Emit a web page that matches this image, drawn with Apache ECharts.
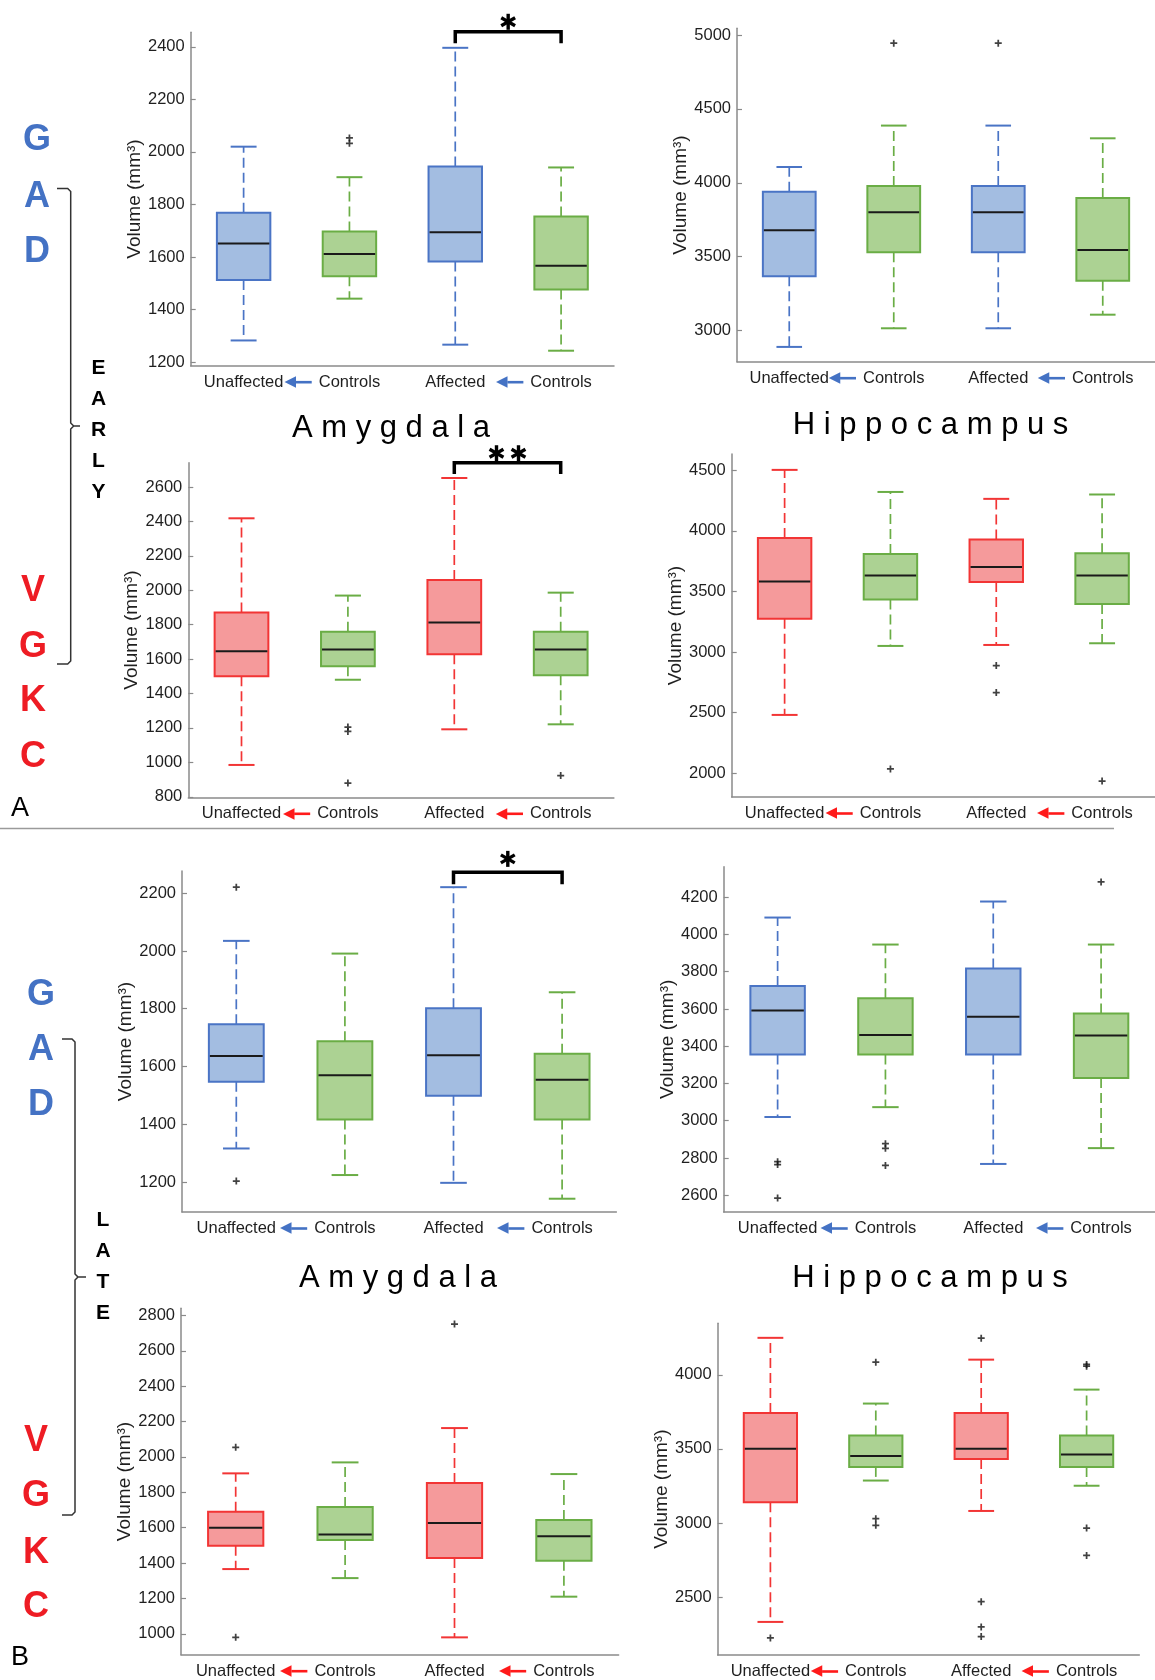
<!DOCTYPE html>
<html><head><meta charset="utf-8">
<script src="https://cdn.jsdelivr.net/npm/echarts@6/dist/echarts.min.js"></script>
<style>html,body{margin:0;padding:0;background:#fff}#c{width:1155px;height:1680px}</style>
</head><body><div id="c"></div>
<script>
// ---------- DATA ----------
const categories = ['Unaffected', 'Controls', 'Affected', 'Controls'];

// each box: [lower whisker, Q1, median, Q3, upper whisker]
const earlyGadAmygBox = [[1283,1513,1652,1769,2020],[1442,1527,1612,1697,1904],[1267,1583,1695,1945,2396],[1244,1477,1567,1754,1941]];
const earlyGadAmygOut = [[1,2033],[1,2053]];
const earlyGadAmygTicks = [1200,1400,1600,1800,2000,2200,2400];
const earlyGadAmygSig = [2, 3, 2413, 2457, 2495, 1];

const earlyGadHippBox = [[2890,3368,3679,3940,4107],[3016,3530,3800,3979,4387],[3016,3530,3800,3979,4387],[3108,3338,3546,3897,4301]];
const earlyGadHippOut = [[1,4944],[2,4944]];
const earlyGadHippTicks = [3000,3500,4000,4500,5000];

const earlyVgkcAmygBox = [[985,1500,1645,1870,2418],[1480,1558,1655,1759,1969],[1192,1628,1812,2060,2652],[1221,1506,1655,1759,1986]];
const earlyVgkcAmygOut = [[1,1205],[1,1180],[1,880],[3,923]];
const earlyVgkcAmygTicks = [800,1000,1200,1400,1600,1800,2000,2200,2400,2600];
const earlyVgkcAmygSig = [2, 3, 2675, 2741, 2796, 2];

const earlyVgkcHippBox = [[2482,3276,3582,3942,4503],[3051,3433,3631,3810,4321],[3059,3579,3703,3928,4264],[3073,3397,3631,3815,4300]];
const earlyVgkcHippOut = [[1,2036],[2,2889],[2,2666],[3,1936]];
const earlyVgkcHippTicks = [2000,2500,3000,3500,4000,4500];

const lateGadAmygBox = [[1316,1547,1636,1746,2035],[1224,1416,1570,1687,1991],[1197,1499,1639,1802,2221],[1142,1416,1554,1644,1857]];
const lateGadAmygOut = [[0,2221],[0,1203]];
const lateGadAmygTicks = [1200,1400,1600,1800,2000,2200];
const lateGadAmygSig = [2, 3, 2231, 2273, 2319, 1];

const lateGadHippBox = [[3020,3356,3592,3724,4091],[3073,3356,3461,3658,3946],[2768,3356,3558,3817,4177],[2853,3229,3458,3576,3946]];
const lateGadHippOut = [[0,2780],[0,2765],[0,2585],[1,2877],[1,2852],[1,2760],[3,4282]];
const lateGadHippTicks = [2600,2800,3000,3200,3400,3600,3800,4000,4200];

const lateVgkcAmygBox = [[1366,1498,1600,1690,1907],[1315,1530,1562,1717,1969],[980,1428,1626,1852,2163],[1210,1413,1551,1643,1903]];
const lateVgkcAmygOut = [[0,2054],[0,980],[2,2751]];
const lateVgkcAmygTicks = [1000,1200,1400,1600,1800,2000,2200,2400,2600,2800];

const lateVgkcHippBox = [[2334,3140,3501,3742,4249],[3287,3379,3452,3590,3806],[3082,3432,3501,3742,4102],[3252,3379,3463,3590,3900]];
const lateVgkcHippOut = [[0,2226],[1,4085],[1,3030],[1,2985],[2,4247],[2,2470],[2,2300],[2,2235],[3,4070],[3,4058],[3,2967],[3,2782]];
const lateVgkcHippTicks = [2500,3000,3500,4000];

// ---------- STYLE ----------
const F = '"Liberation Sans", Arial, sans-serif';
const TXT = '#1f1f1f', AX = '#8a8a8a';
const BLUE = '#4472c4', RED = '#ee1c24';
const PAL = {
  blue: {fill:'#a3bde1', edge:'#4a74c5', arrow:'#4472c4'},
  red: {fill:'#f59a9b', edge:'#f23535', arrow:'#ff1a1a'},
  green: {fill:'#acd293', edge:'#6aad45'}
};

const panels = [
  {g:{left:190.7, top:32.3, width:423.3, height:333.4}, min:1187, max:2455, box:earlyGadAmygBox, out:earlyGadAmygOut, ticks:earlyGadAmygTicks, sig:earlyGadAmygSig, pat:'blue'},
  {g:{left:737, top:28.3, width:423.4, height:333.4}, min:2790, max:5045, box:earlyGadHippBox, out:earlyGadHippOut, ticks:earlyGadHippTicks, pat:'blue'},
  {g:{left:188.3, top:462.7, width:425.6, height:334.6}, min:797, max:2741, box:earlyVgkcAmygBox, out:earlyVgkcAmygOut, ticks:earlyVgkcAmygTicks, sig:earlyVgkcAmygSig, pat:'red'},
  {g:{left:731.7, top:454, width:434, height:343}, min:1805, max:4634, box:earlyVgkcHippBox, out:earlyVgkcHippOut, ticks:earlyVgkcHippTicks, pat:'red'},
  {g:{left:182, top:871, width:434.4, height:341}, min:1096, max:2277, box:lateGadAmygBox, out:lateGadAmygOut, ticks:lateGadAmygTicks, sig:lateGadAmygSig, pat:'blue'},
  {g:{left:723.7, top:866.7, width:441.2, height:345.3}, min:2510, max:4364, box:lateGadHippBox, out:lateGadHippOut, ticks:lateGadHippTicks, pat:'blue'},
  {g:{left:181, top:1308.3, width:437.6, height:346.4}, min:882, max:2840, box:lateVgkcAmygBox, out:lateVgkcAmygOut, ticks:lateVgkcAmygTicks, pat:'red'},
  {g:{left:717.7, top:1323.3, width:421.6, height:334.7}, min:2111, max:4347, box:lateVgkcHippBox, out:lateVgkcHippOut, ticks:lateVgkcHippTicks, pat:'red'}
];

function boxRenderer(pat) {
  return function (params, api) {
    const k = api.value(0);
    const c = (k % 2 === 0) ? PAL[pat] : PAL.green;
    const pt = v => api.coord([k, v]);
    const lo = pt(api.value(1)), q1 = pt(api.value(2)), md = pt(api.value(3)), q3 = pt(api.value(4)), hi = pt(api.value(5));
    const band = api.size([1, 0])[0];
    const bw = band * 0.505, cw = band * 0.245, cx = md[0];
    const dash = {stroke: c.edge, lineWidth: 1.7, lineDash: [10, 5]};
    const solid = {stroke: c.edge, lineWidth: 2};
    return {type: 'group', children: [
      {type:'line', shape:{x1:cx, y1:q3[1], x2:cx, y2:hi[1]}, style:dash},
      {type:'line', shape:{x1:cx, y1:q1[1], x2:cx, y2:lo[1]}, style:dash},
      {type:'line', shape:{x1:cx-cw/2, y1:hi[1], x2:cx+cw/2, y2:hi[1]}, style:solid},
      {type:'line', shape:{x1:cx-cw/2, y1:lo[1], x2:cx+cw/2, y2:lo[1]}, style:solid},
      {type:'rect', shape:{x:cx-bw/2, y:q3[1], width:bw, height:q1[1]-q3[1]}, style:{fill:c.fill, stroke:c.edge, lineWidth:2}},
      {type:'line', shape:{x1:cx-bw/2+1, y1:md[1], x2:cx+bw/2-1, y2:md[1]}, style:{stroke:'#1a1a1a', lineWidth:2}}
    ]};
  };
}

function asterisk(x, y, r) {
  const lines = [];
  for (let a = 0; a < 3; a++) {
    const ang = Math.PI / 2 + a * Math.PI / 3;
    const dx = Math.cos(ang) * r, dy = Math.sin(ang) * r;
    lines.push({type:'line', shape:{x1:x-dx, y1:y-dy, x2:x+dx, y2:y+dy}, style:{stroke:'#000', lineWidth:3.4, lineCap:'butt'}});
  }
  return lines;
}

function sigRenderer(params, api) {
  const a = api.coord([api.value(0), api.value(3)]);
  const b = api.coord([api.value(1), api.value(3)]);
  const low = api.coord([api.value(0), api.value(2)])[1];
  const sy = api.coord([api.value(0), api.value(4)])[1];
  const n = api.value(5);
  const mx = (a[0] + b[0]) / 2;
  let kids = [{type:'polyline', shape:{points:[[a[0], low],[a[0], a[1]],[b[0], b[1]],[b[0], low]]}, style:{stroke:'#000', lineWidth:3.5, fill:null}}];
  if (n === 1) kids = kids.concat(asterisk(mx, sy, 8));
  else { kids = kids.concat(asterisk(mx - 11, sy, 8), asterisk(mx + 11, sy, 8)); }
  return {type:'group', children:kids};
}

const PLUS = 'path://M3,0H5V3H8V5H5V8H3V5H0V3H3Z';

const option = {
  animation: false,
  backgroundColor: '#fff',
  grid: panels.map(p => Object.assign({containLabel:false}, p.g)),
  xAxis: panels.map((p, i) => ({
    type:'category', gridIndex:i, data:categories, boundaryGap:true,
    axisLine:{lineStyle:{color:AX, width:1.5}},
    axisTick:{inside:true, alignWithLabel:true, length:5, lineStyle:{color:AX, width:1.2}},
    splitLine:{show:false},
    axisLabel:{
      interval:0, margin:8, hideOverlap:false,
      formatter:(v, idx) => idx % 2 === 1 ? '{arr|◀}{sh|}{gp|}{t|' + v + '}{pd|}' : '{t|' + v + '}',
      rich:{
        t:{fontSize:16.5, color:TXT, fontFamily:F},
        arr:{fontSize:15, color:PAL[p.pat].arrow, fontFamily:'"DejaVu Sans"', width:11, verticalAlign:'middle'},
        sh:{width:16, height:2.6, backgroundColor:PAL[p.pat].arrow, verticalAlign:'middle'},
        gp:{width:7},
        pd:{width:34}
      }
    }
  })),
  yAxis: panels.map((p, i) => ({
    type:'value', gridIndex:i, min:p.min, max:p.max,
    name:'Volume (mm³)', nameLocation:'middle', nameGap:44,
    nameTextStyle:{fontSize:19, color:TXT, fontFamily:F},
    axisLine:{show:true, lineStyle:{color:AX, width:1.5}},
    axisTick:{show:true, inside:true, length:5, customValues:p.ticks, lineStyle:{color:AX, width:1.2}},
    axisLabel:{customValues:p.ticks, fontSize:16.5, color:TXT, fontFamily:F, margin:6, formatter:v => String(Math.round(v))},
    splitLine:{show:false}
  })),
  series: []
};

panels.forEach((p, i) => {
  option.series.push({
    type:'custom', xAxisIndex:i, yAxisIndex:i, clip:false, z:2,
    data:p.box.map((b, k) => [k].concat(b)),
    encode:{x:0, y:[1,2,3,4,5]},
    renderItem:boxRenderer(p.pat)
  });
  option.series.push({
    type:'scatter', xAxisIndex:i, yAxisIndex:i, z:3,
    data:p.out, symbol:PLUS, symbolSize:7,
    itemStyle:{color:'#111'}
  });
  if (p.sig) {
    option.series.push({
      type:'custom', xAxisIndex:i, yAxisIndex:i, clip:false, z:4,
      data:[p.sig], encode:{x:[0,1], y:[2,3,4]},
      renderItem:sigRenderer
    });
  }
});

// ---------- DECORATIONS ----------
function txt(x, y, t, color, size, weight) {
  return {type:'text', x:x, y:y, z:10, style:{text:t, fill:color, font:(weight||'normal') + ' ' + size + 'px ' + F, align:'center', verticalAlign:'middle', textAlign:'center', textVerticalAlign:'middle'}};
}
function brace(x, y1, y2, ym, tipX, endX) {
  return {type:'polyline', z:10, shape:{points:[[endX,y1],[x-3,y1],[x,y1+3],[x,ym-3],[x+3,ym],[tipX,ym],[x+3,ym],[x,ym+3],[x,y2-3],[x-3,y2],[endX,y2]]}, style:{stroke:'#333', lineWidth:1.5, fill:null}};
}
const gfx = [];
[['G',140],['A',197],['D',252]].forEach(d => gfx.push(txt(37, d[1], d[0], BLUE, 36, 'bold')));
[['V',591],['G',647],['K',701],['C',757]].forEach(d => gfx.push(txt(33, d[1], d[0], RED, 36, 'bold')));
[['E',368],['A',399],['R',430],['L',461],['Y',492]].forEach(d => gfx.push(txt(98.5, d[1], d[0], '#000', 21, 'bold')));
gfx.push(brace(70.7, 188.5, 664, 426, 80, 57));
[['G',995],['A',1050],['D',1105]].forEach(d => gfx.push(txt(41, d[1], d[0], BLUE, 36, 'bold')));
[['V',1441],['G',1496],['K',1553],['C',1607]].forEach(d => gfx.push(txt(36, d[1], d[0], RED, 36, 'bold')));
[['L',1220],['A',1251],['T',1282],['E',1313]].forEach(d => gfx.push(txt(103, d[1], d[0], '#000', 21, 'bold')));
gfx.push(brace(75, 1039, 1515, 1277, 86, 62));
gfx.push(txt(20, 809, 'A', '#000', 27));
gfx.push(txt(20, 1658, 'B', '#000', 27));
gfx.push({type:'line', z:10, shape:{x1:0, y1:828.5, x2:1114, y2:828.5}, style:{stroke:'#9a9a9a', lineWidth:1.5}});
gfx.push(txt(391, 428, 'A m y g d a l a', '#000', 31));
gfx.push(txt(930.5, 425, 'H i p p o c a m p u s', '#000', 31));
gfx.push(txt(398, 1278, 'A m y g d a l a', '#000', 31));
gfx.push(txt(930, 1278, 'H i p p o c a m p u s', '#000', 31));
option.graphic = gfx;

const chart = echarts.init(document.getElementById('c'), null, {renderer:'canvas', width:1155, height:1680});
chart.setOption(option);
</script></body></html>
